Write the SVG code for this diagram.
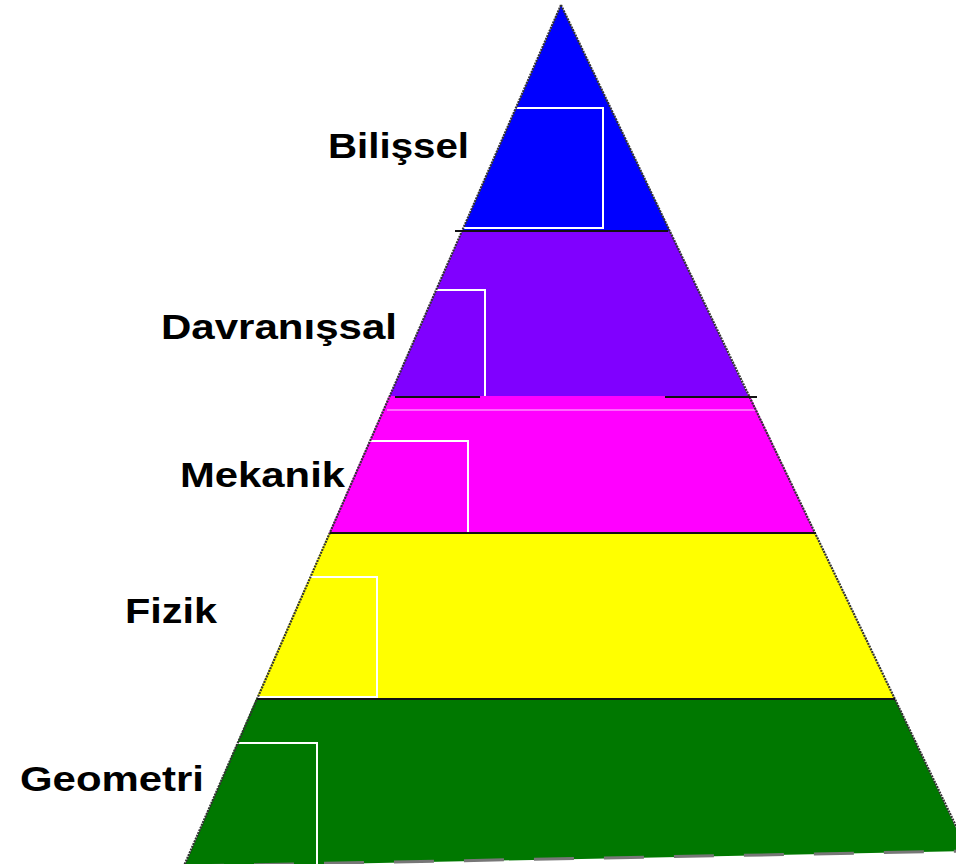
<svg xmlns="http://www.w3.org/2000/svg" width="956" height="864" viewBox="0 0 956 864">
<style>
.lbl{font-family:"Liberation Sans",Arial,sans-serif;font-weight:bold;font-size:35px;fill:#000}
.box{fill:none;stroke:#fff;stroke-width:2}
.sep{stroke:#111;stroke-width:2}
.edge{fill:none;stroke:#333;stroke-width:2.2;stroke-dasharray:2 1}
</style>
<rect width="956" height="864" fill="#fff"/>
<g id="bilissel">
<polygon points="561,5 462,231 670,231" fill="#0000ff"/>
<rect class="box" x="330" y="108" width="273" height="120"/>
<text class="lbl" x="328" y="158" textLength="141" lengthAdjust="spacingAndGlyphs">Bilişsel</text>
</g>
<g id="davranissal">
<polygon points="462,231 670,231 749,397 389,397" fill="#8000ff"/>
<rect class="box" x="160" y="290" width="325" height="121"/>
<text class="lbl" x="161" y="339" textLength="236" lengthAdjust="spacingAndGlyphs">Davranışsal</text>
</g>
<g id="mekanik">
<polygon points="389,396 750,396 815,533 329,533" fill="#ff00ff"/>
<line x1="387" y1="410" x2="755" y2="410" stroke="#fff" stroke-width="1" opacity="0.8"/>
<rect class="box" x="180" y="441" width="288" height="120"/>
<text class="lbl" x="180" y="487" textLength="165" lengthAdjust="spacingAndGlyphs">Mekanik</text>
</g>
<g id="fizik">
<polygon points="329,533 815,533 895,699 256,699" fill="#ffff00"/>
<rect class="box" x="125" y="577" width="252" height="120"/>
<text class="lbl" x="125" y="623" textLength="92" lengthAdjust="spacingAndGlyphs">Fizik</text>
</g>
<g id="geometri">
<polygon points="256,699 895,699 967,851 184,867" fill="#007800"/>
<rect class="box" x="20" y="743" width="297" height="140"/>
<text class="lbl" x="20" y="791" textLength="184" lengthAdjust="spacingAndGlyphs">Geometri</text>
</g>
<g id="connectors">
<line class="edge" x1="561" y1="5" x2="183" y2="868"/>
<line class="edge" x1="561" y1="5" x2="968" y2="851"/>
<line x1="184" y1="866" x2="967" y2="851" stroke="#777" stroke-width="3" stroke-dasharray="40 30"/>
<line class="sep" x1="455" y1="231" x2="668" y2="231"/>
<line class="sep" x1="395" y1="397" x2="480" y2="397"/>
<line class="sep" x1="665" y1="397" x2="757" y2="397"/>
<line class="sep" x1="330" y1="533" x2="816" y2="533"/>
<line class="sep" x1="257" y1="699" x2="895" y2="699"/>
</g>
</svg>
